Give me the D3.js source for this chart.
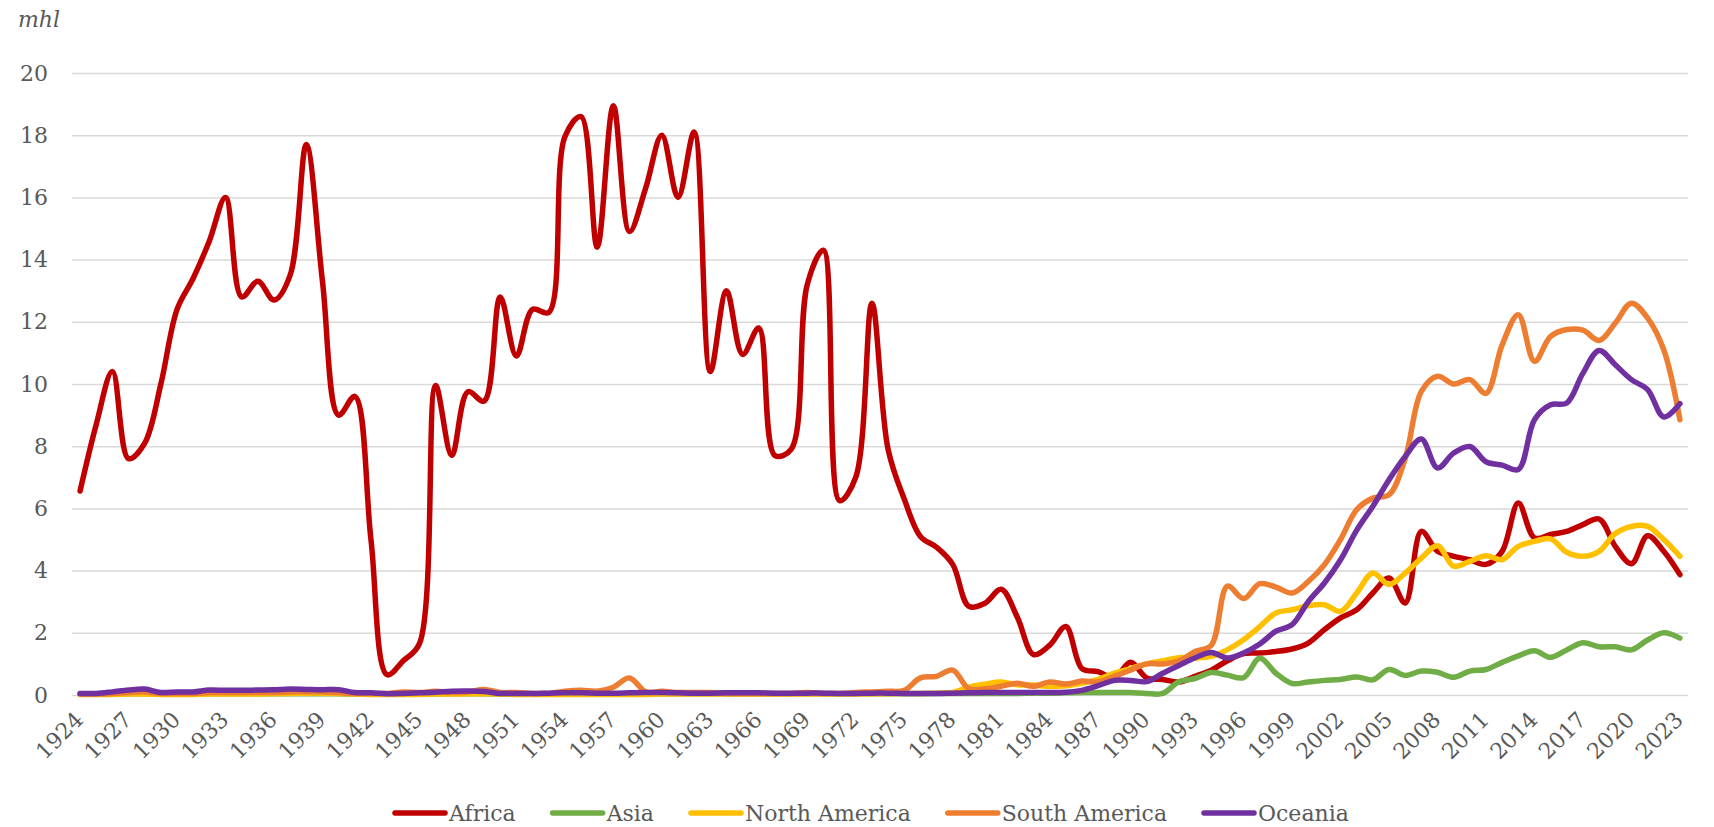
<!DOCTYPE html>
<html>
<head>
<meta charset="utf-8">
<script src="https://cdn.jsdelivr.net/npm/d3@7"></script>
<style>
  html, body { margin: 0; padding: 0; background: #fff; }
  svg text { font-family: "DejaVu Serif", "Liberation Serif", serif; fill: #595959; }
</style>
</head>
<body>
<div id="chart"></div>
<script>
const years = d3.range(1924, 2024);
const yTicks = [0, 2, 4, 6, 8, 10, 12, 14, 16, 18, 20];
const xTickYears = d3.range(1924, 2024, 3);
const seriesNames = ["Africa", "Asia", "North America", "South America", "Oceania"];
const seriesColors = ["#C00000", "#70AD47", "#FFC000", "#ED7D31", "#7030A0"];

const africa = [
  6.56, 8.7, 10.4, 7.6, 8.1, 10.0, 12.4, 13.4, 14.6, 16.0,
  12.8, 13.3, 12.7, 13.5, 17.7, 13.3, 9.0, 9.6, 5.0, 0.65,
  1.1, 1.65, 9.95, 7.7, 9.75, 9.45, 12.8, 10.9, 12.4, 12.3,
  17.95, 18.6, 14.4, 18.95, 14.9, 16.3, 18.0, 16.0, 18.1, 10.4,
  13.0, 10.95, 11.8, 7.7, 7.9, 13.2, 14.3, 6.25, 7.0, 12.6,
  7.9, 6.3, 5.1, 4.75, 4.2, 2.85, 2.95, 3.4, 2.5, 1.3,
  1.6, 2.2, 0.85, 0.75, 0.55, 1.05, 0.55, 0.5, 0.42, 0.6,
  0.8, 1.1, 1.33, 1.35, 1.4, 1.48, 1.67, 2.1, 2.48, 2.74,
  3.28, 3.76, 2.96, 5.26, 4.62, 4.46, 4.35, 4.2, 4.62, 6.17,
  5.05, 5.16, 5.26, 5.48, 5.66, 4.78, 4.22, 5.12, 4.62, 3.87
];

const asia = [
  0.03, 0.03, 0.03, 0.04, 0.04, 0.03, 0.03, 0.03, 0.04, 0.04,
  0.04, 0.04, 0.04, 0.04, 0.04, 0.04, 0.04, 0.03, 0.03, 0.03,
  0.03, 0.03, 0.03, 0.04, 0.04, 0.04, 0.03, 0.03, 0.03, 0.03,
  0.03, 0.03, 0.03, 0.03, 0.03, 0.03, 0.04, 0.04, 0.04, 0.04,
  0.04, 0.04, 0.04, 0.04, 0.04, 0.04, 0.04, 0.04, 0.04, 0.04,
  0.04, 0.04, 0.04, 0.05, 0.05, 0.05, 0.05, 0.05, 0.05, 0.06,
  0.06, 0.07, 0.08, 0.08, 0.08, 0.08, 0.05, 0.05, 0.43, 0.53,
  0.72, 0.64, 0.56, 1.18, 0.7, 0.37, 0.42, 0.47, 0.5, 0.58,
  0.49, 0.82, 0.63, 0.77, 0.73, 0.57, 0.77, 0.82, 1.05, 1.26,
  1.42, 1.21, 1.45, 1.68, 1.55, 1.55, 1.45, 1.77, 2.0, 1.83
];

const northAmerica = [
  0.02, 0.02, 0.02, 0.03, 0.03, 0.02, 0.02, 0.02, 0.03, 0.03,
  0.03, 0.03, 0.04, 0.05, 0.06, 0.06, 0.05, 0.03, 0.02, 0.02,
  0.02, 0.02, 0.03, 0.03, 0.04, 0.04, 0.03, 0.02, 0.02, 0.02,
  0.02, 0.02, 0.02, 0.02, 0.02, 0.02, 0.03, 0.03, 0.03, 0.03,
  0.03, 0.03, 0.03, 0.03, 0.03, 0.03, 0.03, 0.03, 0.03, 0.04,
  0.04, 0.05, 0.05, 0.06, 0.08, 0.25, 0.35, 0.42, 0.33, 0.32,
  0.28, 0.3, 0.38, 0.5, 0.7, 0.85, 1.0, 1.1, 1.2, 1.19,
  1.24, 1.46, 1.78, 2.2, 2.64, 2.74, 2.87, 2.9, 2.69, 3.28,
  3.92, 3.55, 3.92, 4.4, 4.8, 4.14, 4.3, 4.48, 4.35, 4.78,
  4.94, 5.02, 4.59, 4.46, 4.62, 5.19, 5.42, 5.42, 5.0, 4.46
];

const southAmerica = [
  0.03, 0.03, 0.05, 0.08, 0.1, 0.05, 0.05, 0.05, 0.08, 0.08,
  0.08, 0.08, 0.08, 0.1, 0.1, 0.1, 0.08, 0.05, 0.05, 0.05,
  0.1, 0.08, 0.12, 0.08, 0.1, 0.18, 0.08, 0.08, 0.05, 0.05,
  0.12, 0.15, 0.12, 0.25, 0.55, 0.1, 0.12, 0.08, 0.08, 0.08,
  0.05, 0.05, 0.05, 0.05, 0.05, 0.08, 0.05, 0.05, 0.08, 0.1,
  0.12, 0.15, 0.55, 0.6, 0.8, 0.2, 0.2, 0.28, 0.38, 0.28,
  0.42, 0.35, 0.45, 0.42, 0.6, 0.8, 1.0, 1.0, 1.1, 1.4,
  1.6, 3.5, 3.1, 3.58, 3.47, 3.28, 3.65, 4.19, 5.0, 5.96,
  6.33, 6.44, 7.6, 9.76, 10.25, 10.0, 10.14, 9.7, 11.26, 12.23,
  10.73, 11.53, 11.75, 11.73, 11.4, 11.96, 12.6, 12.12, 11.1, 8.85
];

const oceania = [
  0.05, 0.05, 0.1, 0.16, 0.19, 0.08, 0.1, 0.1, 0.16, 0.15,
  0.15, 0.16, 0.17, 0.19, 0.18, 0.17, 0.17, 0.08, 0.07, 0.04,
  0.05, 0.07, 0.09, 0.12, 0.13, 0.11, 0.05, 0.05, 0.05, 0.06,
  0.07, 0.07, 0.06, 0.06, 0.07, 0.08, 0.08, 0.07, 0.06, 0.06,
  0.07, 0.07, 0.07, 0.06, 0.06, 0.06, 0.06, 0.05, 0.05, 0.06,
  0.06, 0.05, 0.05, 0.05, 0.06, 0.07, 0.08, 0.08, 0.08, 0.08,
  0.08, 0.09, 0.15, 0.3, 0.47, 0.47, 0.43, 0.7, 0.95, 1.2,
  1.37, 1.19, 1.35, 1.64, 2.05, 2.26, 3.0, 3.6, 4.35, 5.3,
  6.07, 6.92, 7.67, 8.23, 7.3, 7.78, 7.99, 7.5, 7.39, 7.25,
  8.85, 9.33, 9.39, 10.35, 11.08, 10.62, 10.14, 9.82, 8.94, 9.37
];

const seriesValues = [africa, asia, northAmerica, southAmerica, oceania];

const width = 1714, height = 827;
const plot = {left: 72, right: 1688, top: 73, bottom: 695};
const fontSize = 22;

const svg = d3.select("#chart")
  .append("svg")
  .attr("width", width)
  .attr("height", height);

svg.append("rect").attr("width", width).attr("height", height).attr("fill", "#fff");

const xScale = d3.scaleBand()
  .domain(years)
  .range([plot.left, plot.right]);

const xPos = yr => xScale(yr) + xScale.bandwidth() / 2;

const yScale = d3.scaleLinear()
  .domain([0, 20])
  .range([plot.bottom, plot.top]);

// gridlines + y labels
const yAxis = d3.axisLeft(yScale)
  .tickValues(yTicks)
  .tickSize(-(plot.right - plot.left))
  .tickPadding(24);

const gy = svg.append("g")
  .attr("transform", `translate(${plot.left},0)`)
  .call(yAxis);
gy.select(".domain").remove();
gy.selectAll(".tick line").attr("stroke", "#D9D9D9").attr("stroke-width", 1.5);
gy.selectAll(".tick text")
  .attr("font-family", "DejaVu Serif")
  .attr("font-size", fontSize)
  .attr("fill", "#595959");

// x labels
const xAxis = d3.axisBottom(d3.scalePoint().domain(years).range([xPos(1924), xPos(2023)]))
  .tickValues(xTickYears)
  .tickSize(0)
  .tickPadding(0);

const gx = svg.append("g")
  .attr("transform", `translate(0,${plot.bottom})`)
  .call(xAxis);
gx.select(".domain").remove();
gx.selectAll(".tick text")
  .attr("font-family", "DejaVu Serif")
  .attr("font-size", fontSize)
  .attr("fill", "#595959")
  .attr("text-anchor", "end")
  .attr("dy", null)
  .attr("y", 0)
  .attr("transform", "translate(4,26) rotate(-45)");

svg.append("text")
  .attr("x", 18)
  .attr("y", 27)
  .attr("font-size", fontSize)
  .attr("font-style", "italic")
  .text("mhl");

const line = d3.line()
  .x((d, i) => xPos(years[i]))
  .y(d => yScale(d))
  .curve(d3.curveCatmullRom);

seriesValues.forEach((vals, i) => {
  svg.append("path")
    .datum(vals)
    .attr("d", line)
    .attr("fill", "none")
    .attr("stroke", seriesColors[i])
    .attr("stroke-width", 5.5)
    .attr("stroke-linejoin", "round")
    .attr("stroke-linecap", "round");
});

// legend
const legend = svg.append("g");
let lx = 393;
const ly = 813;
seriesNames.forEach((name, i) => {
  legend.append("line")
    .attr("x1", lx + 2).attr("x2", lx + 52)
    .attr("y1", ly).attr("y2", ly)
    .attr("stroke", seriesColors[i])
    .attr("stroke-width", 5.5)
    .attr("stroke-linecap", "round");
  const t = legend.append("text")
    .attr("x", lx + 56)
    .attr("y", ly + 8)
    .attr("font-size", fontSize)
    .text(name);
  lx += 56 + t.node().getComputedTextLength() + 35;
});
</script>
</body>
</html>
